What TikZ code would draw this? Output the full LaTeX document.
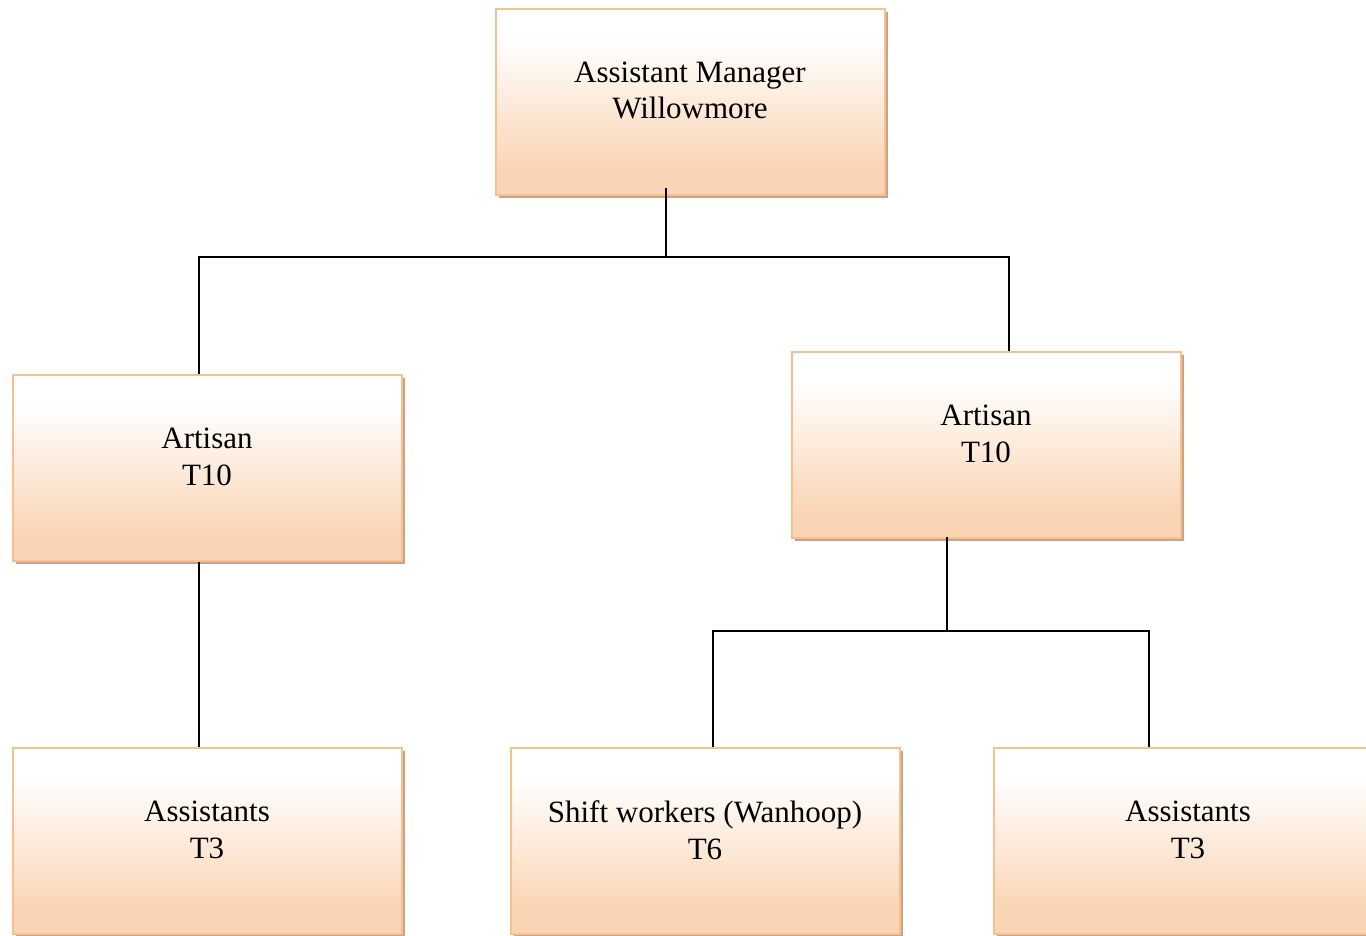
\documentclass[tikz,border=0pt]{standalone}
\usepackage{fontspec}
\setmainfont{Liberation Serif}
\usetikzlibrary{shadows,calc}

\definecolor{peachfill}{HTML}{FAD5B5}
\definecolor{peachline}{HTML}{F9C08F}
\definecolor{peachshadow}{HTML}{C9A385}
\definecolor{linkline}{HTML}{000000}

% soft vertical fade: white near the top, peach near the bottom
\pgfdeclareverticalshading{peachfade}{100bp}{%
  color(0bp)=(peachfill); color(32bp)=(peachfill);
  color(67bp)=(white); color(100bp)=(white)}

\newcommand\orgfont{\fontsize{31}{36.5}\selectfont}

\tikzset{
  orgbox/.style={draw=peachline, line width=2pt, shading=peachfade,
    minimum width=389pt, minimum height=186pt, inner sep=0pt,
    drop shadow={shadow xshift=3pt, shadow yshift=-3pt,
      fill=peachshadow, opacity=1}},
  orgtext/.style={align=center, font=\orgfont, yshift=11pt},
  conn/.style={draw=linkline, line width=1.6pt}
}

\begin{document}
\begin{tikzpicture}[x=1pt, y=-1pt]
  \useasboundingbox (0,0) rectangle (1366,935);
  \clip (0,0) rectangle (1366,935);
  \fill[white] (0,0) rectangle (1366,935);

  % boxes of the chart
  \node[orgbox, label={[name=amt, orgtext]center:Assistant Manager\\Willowmore}] (am) at (690,101.5) {};
  \node[orgbox, label={[name=a1t, orgtext]center:Artisan\\T10}] (a1) at (207,468) {};
  \node[orgbox, label={[name=a2t, orgtext]center:Artisan\\T10}] (a2) at (986,445) {};
  \node[orgbox, label={[name=b1t, orgtext]center:Assistants\\T3}] (b1) at (207,841) {};
  \node[orgbox, label={[name=b2t, orgtext]center:Shift workers (Wanhoop)\\T6}] (b2) at (705,841) {};
  \node[orgbox, label={[name=b3t, orgtext]center:Assistants\\T3}] (b3) at (1188,841) {};

  % junction points of the connectors
  \coordinate (j1)  at (666,257);
  \coordinate (j1l) at (199,257);
  \coordinate (j1r) at (1009,257);
  \coordinate (j2)  at (947,631);
  \coordinate (j2l) at (713,631);
  \coordinate (j2r) at (1149,631);

  % connectors
  \draw[conn] ([yshift=8pt]am.south -| j1) -- (j1);
  \draw[conn] (j1l |- a1.north) -- (j1l) -- (j1r) -- (j1r |- a2.north);
  \draw[conn] (j1l |- a1.south) -- (j1l |- b1.north);
  \draw[conn] ([yshift=2pt]a2.south -| j2) -- (j2);
  \draw[conn] (j2l |- b2.north) -- (j2l) -- (j2r) -- (j2r |- b3.north);
\end{tikzpicture}
\end{document}
